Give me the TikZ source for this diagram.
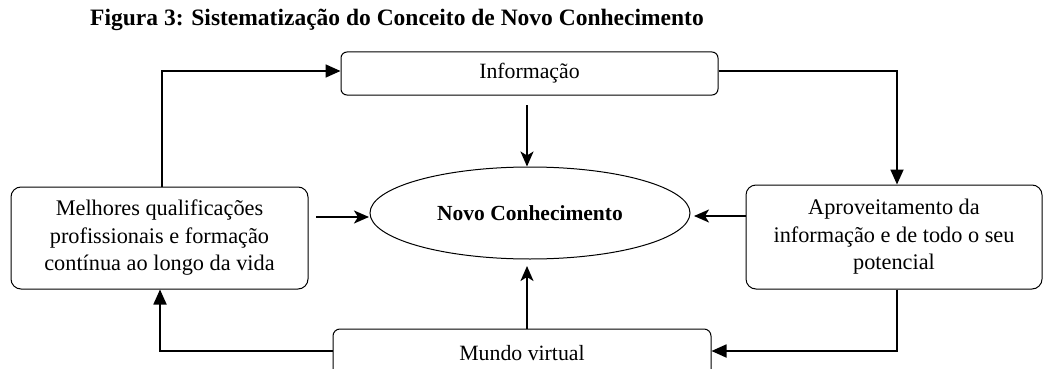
\documentclass[tikz,border=0pt]{standalone}
\usepackage{fontspec}
\setmainfont{Liberation Serif}
\usetikzlibrary{arrows.meta,shapes.geometric}
\begin{document}
\begin{tikzpicture}[x=1pt,y=-1pt,
  box/.style={draw, line width=1pt, rounded corners=10pt, align=center, inner sep=0pt, font=\fontsize{22.3}{27.5}\selectfont},
  loop/.style={line width=1.8pt, -{Triangle[length=15pt,width=13pt]}},
  feed/.style={line width=1.8pt, -{Stealth[length=15pt,width=13pt,inset=4pt]}}]
\useasboundingbox (0,0) rectangle (1049,369);
\clip (0,0) rectangle (1049,369);
\node[font=\bfseries\fontsize{23.5}{27}\selectfont] (title) at (397,20) {Figura 3: Sistematização do Conceito de Novo Conhecimento};
\node[box, rounded corners=6pt, minimum width=377pt, minimum height=43pt, font=\fontsize{21.8}{26}\selectfont] (info) at (529.5,73.5) {Informação};
\node[draw, ellipse, line width=1pt, minimum width=320pt, minimum height=92pt, inner sep=0pt, font=\bfseries\fontsize{21.5}{26}\selectfont] (novo) at (530,213) {Novo Conhecimento};
\node[box, minimum width=297pt, minimum height=102pt] (melh) at (159.5,238) {Melhores qualificações\\profissionais e formação\\contínua ao longo da vida};
\node[box, minimum width=296pt, minimum height=104pt] (aprov) at (894,237) {Aproveitamento da\\informação e de todo o seu\\potencial};
\node[box, rounded corners=7pt, minimum width=378pt, minimum height=48pt, font=\fontsize{21.8}{26}\selectfont] (mundo) at (522,353) {Mundo virtual};
\coordinate (a1) at (162,71);
\coordinate (a2) at (897,71);
\coordinate (a3) at (897,351);
\coordinate (a4) at (160,351);
\draw[loop] (melh.north -| a1) -- (a1) -- (a1 -| info.west);
\draw[loop] (info.east |- a2) -- (a2) -- (a2 |- aprov.north);
\draw[loop] (aprov.south -| a3) -- (a3) -- (a3 -| mundo.east);
\draw[loop] (mundo.west |- a4) -- (a4) -- (a4 |- melh.south);
\coordinate (i1) at (527,105);
\coordinate (m1) at (527,329);
\coordinate (l1) at (316,217);
\coordinate (r1) at (746,216);
\draw[feed] (i1) -- (novo.north -| i1);
\draw[feed] (m1) -- (527,266);
\draw[feed] (l1) -- (369,217);
\draw[feed] (r1) -- (694,216);
\end{tikzpicture}
\end{document}
